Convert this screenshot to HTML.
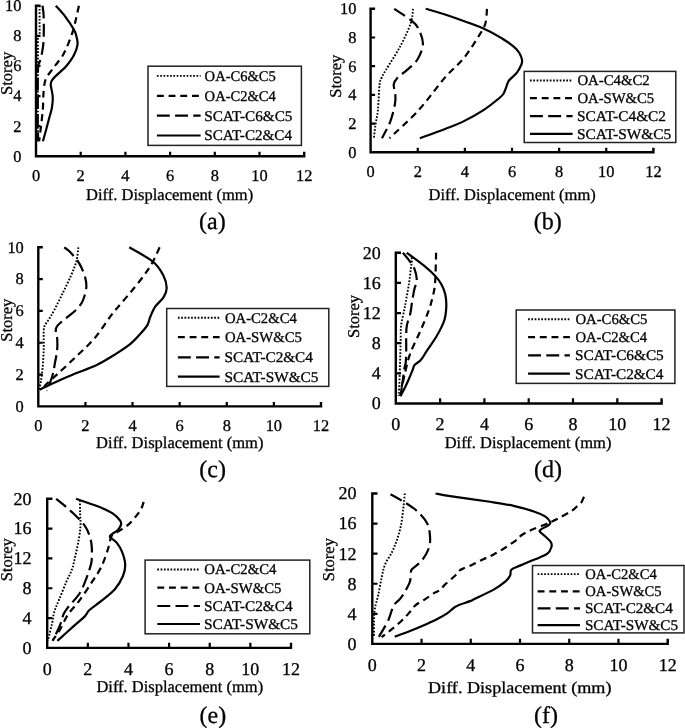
<!DOCTYPE html>
<html><head><meta charset="utf-8"><title>Diff. Displacement vs Storey</title>
<style>
html,body{margin:0;padding:0;background:#fff;}
body{width:685px;height:728px;overflow:hidden;font-family:"Liberation Serif",serif;}
svg{display:block;will-change:transform;filter:blur(0.3px);}
text{font-family:"Liberation Serif",serif;stroke:#000;stroke-width:0.3px;paint-order:stroke;text-rendering:geometricPrecision;}
</style></head><body>
<svg width="685" height="728" viewBox="0 0 685 728" font-family="Liberation Serif, serif" fill="#000">
<g id="pa">
<path d="M39.58,5.7 C39.58,8.21 39.58,15.99 39.58,20.76 C39.58,25.53 39.84,31.55 39.58,34.31 C39.32,37.07 38.27,34.56 38.01,37.33 C37.75,40.09 38.05,46.11 38.01,50.88 C37.97,55.65 37.83,60.92 37.79,65.94 C37.75,70.96 37.79,75.98 37.79,81 C37.79,86.02 37.79,91.04 37.79,96.06 C37.79,101.08 37.79,106.1 37.79,111.12 C37.79,116.14 37.79,121.16 37.79,126.18 C37.79,131.2 37.79,138.73 37.79,141.24" fill="none" stroke="#000" stroke-width="1.9" stroke-dasharray="1.7 1.6" stroke-linecap="butt" stroke-linejoin="round"/>
<path d="M78.91,5.7 C78.46,7.71 77.16,13.73 76.23,17.75 C75.3,21.76 74.63,25.53 73.32,29.8 C72.02,34.06 70.12,39.16 68.41,43.35 C66.69,47.54 65.09,51.43 63.04,54.95 C60.99,58.46 58.13,61.72 56.11,64.43 C54.1,67.14 52.73,68.7 50.97,71.21 C49.22,73.72 46.84,76.11 45.61,79.49 C44.38,82.88 44.05,86.77 43.6,91.54 C43.15,96.31 43.26,103.16 42.93,108.11 C42.59,113.05 42.22,115.69 41.59,121.21 C40.95,126.73 39.54,137.9 39.13,141.24" fill="none" stroke="#000" stroke-width="2.2" stroke-dasharray="6.9 4.8" stroke-linecap="butt" stroke-linejoin="round"/>
<path d="M42.48,5.7 C42.67,7.21 43.38,10.97 43.6,14.74 C43.82,18.5 43.86,23.52 43.82,28.29 C43.79,33.06 43.71,39.08 43.38,43.35 C43.04,47.62 42.41,50.88 41.81,53.89 C41.22,56.9 40.4,59.41 39.8,61.42 C39.2,63.43 38.57,62.68 38.23,65.94 C37.9,69.2 37.86,75.98 37.79,81 C37.71,86.02 37.79,91.04 37.79,96.06 C37.79,101.08 37.79,106.1 37.79,111.12 C37.79,116.14 37.71,121.16 37.79,126.18 C37.86,131.2 38.16,138.73 38.23,141.24" fill="none" stroke="#000" stroke-width="2.2" stroke-dasharray="12.9 5.3" stroke-linecap="butt" stroke-linejoin="round"/>
<path d="M55.8,5.7 C57.38,7.51 62.25,12.53 65.28,16.54 C68.31,20.56 72.1,26.33 74,29.8 C75.89,33.26 76.09,34.82 76.68,37.33 C77.26,39.84 77.95,41.92 77.5,44.86 C77.06,47.79 75.85,51.43 74,54.95 C72.14,58.46 68.59,63.2 66.4,65.94 C64.2,68.68 62.67,69.6 60.81,71.36 C58.95,73.12 56.71,74.95 55.22,76.48 C53.73,78.01 52.61,79.14 51.87,80.55 C51.12,81.95 50.6,82.18 50.75,84.92 C50.9,87.65 52.58,93.12 52.76,96.96 C52.95,100.8 52.5,104.29 51.87,107.96 C51.24,111.62 49.93,115.29 48.96,118.95 C47.99,122.62 47.06,126.23 46.06,129.94 C45.05,133.66 43.45,139.36 42.93,141.24" fill="none" stroke="#000" stroke-width="2.2" stroke-linecap="butt" stroke-linejoin="round"/>
<path d="M40.5,5.7 H36 V156.3 H304.2 V151.8" fill="none" stroke="#000" stroke-width="2.4" stroke-linejoin="miter"/>
<path d="M36,126.18 h4.5 M36,96.06 h4.5 M36,65.94 h4.5 M36,35.82 h4.5 M80.7,156.3 v-4.5 M125.4,156.3 v-4.5 M170.1,156.3 v-4.5 M214.8,156.3 v-4.5 M259.5,156.3 v-4.5 " stroke="#000" stroke-width="2.2"/>
<text x="21.4" y="161.65" font-size="16.4" text-anchor="end">0</text>
<text x="21.4" y="131.53" font-size="16.4" text-anchor="end">2</text>
<text x="21.4" y="101.41" font-size="16.4" text-anchor="end">4</text>
<text x="21.4" y="71.29" font-size="16.4" text-anchor="end">6</text>
<text x="21.4" y="41.17" font-size="16.4" text-anchor="end">8</text>
<text x="21.4" y="11.05" font-size="16.4" text-anchor="end">10</text>
<text x="36" y="181.3" font-size="16.4" text-anchor="middle">0</text>
<text x="80.7" y="181.3" font-size="16.4" text-anchor="middle">2</text>
<text x="125.4" y="181.3" font-size="16.4" text-anchor="middle">4</text>
<text x="170.1" y="181.3" font-size="16.4" text-anchor="middle">6</text>
<text x="214.8" y="181.3" font-size="16.4" text-anchor="middle">8</text>
<text x="259.5" y="181.3" font-size="16.4" text-anchor="middle">10</text>
<text x="304.2" y="181.3" font-size="16.4" text-anchor="middle">12</text>
<text x="86.1" y="200" font-size="16.5" textLength="167.1" lengthAdjust="spacingAndGlyphs">Diff. Displacement (mm)</text>
<text transform="translate(12.1,73.4) rotate(-90)" x="0" y="0" font-size="16.5" text-anchor="middle">Storey</text>
<text x="199.1" y="228.7" font-size="24">(a)</text>
<rect x="148" y="66.2" width="153.4" height="79.2" fill="#fff" stroke="#222" stroke-width="1.5"/>
<path d="M156.9,75.9 H200.6" stroke="#000" stroke-width="1.9" stroke-dasharray="1.7 1.6"/>
<text x="204.62" y="80.89" font-size="14.8" textLength="71.26" lengthAdjust="spacingAndGlyphs">OA-C6&amp;C5</text>
<path d="M156.9,95.8 H200.6" stroke="#000" stroke-width="2.2" stroke-dasharray="6.9 4.8"/>
<text x="204.62" y="100.79" font-size="14.8" textLength="71.29" lengthAdjust="spacingAndGlyphs">OA-C2&amp;C4</text>
<path d="M156.9,115.7 H200.6" stroke="#000" stroke-width="2.2" stroke-dasharray="12.9 5.3"/>
<text x="204.21" y="120.69" font-size="14.8" textLength="88.17" lengthAdjust="spacingAndGlyphs">SCAT-C6&amp;C5</text>
<path d="M156.9,135.5 H200.6" stroke="#000" stroke-width="2.2"/>
<text x="204.22" y="140.49" font-size="14.8" textLength="87.79" lengthAdjust="spacingAndGlyphs">SCAT-C2&amp;C4</text>
</g>
<g id="pb">
<path d="M413.02,8.8 C412.63,11.24 412.82,17.12 410.66,23.44 C408.5,29.75 404.18,38.94 400.06,46.68 C395.93,54.43 388.98,64.77 385.92,69.93 C382.85,75.1 382.74,75.26 381.68,77.68 C380.62,80.1 380.18,79.02 379.56,84.42 C378.93,89.83 378.57,103.49 377.91,110.11 C377.24,116.74 376.22,119.49 375.55,124.17 C374.88,128.86 374.17,135.89 373.9,138.24" fill="none" stroke="#000" stroke-width="1.9" stroke-dasharray="1.7 1.6" stroke-linecap="butt" stroke-linejoin="round"/>
<path d="M487.02,8.8 C486.74,11.24 486.63,19.08 485.37,23.44 C484.11,27.79 483.09,29.11 479.48,34.92 C475.86,40.73 469.42,51.23 463.69,58.31 C457.95,65.39 452.57,68.76 445.07,77.39 C437.57,86.03 427.95,99.97 418.68,110.11 C409.41,120.25 394.32,133.55 389.45,138.24" fill="none" stroke="#000" stroke-width="2.2" stroke-dasharray="6.9 4.8" stroke-linecap="butt" stroke-linejoin="round"/>
<path d="M394.17,8.8 C396.99,10.71 407.21,17.17 411.13,20.28 C415.06,23.39 415.77,23.63 417.73,27.46 C419.7,31.28 422.92,37.98 422.92,43.24 C422.92,48.5 420.36,54.58 417.73,59.03 C415.1,63.47 410.47,66.87 407.13,69.93 C403.79,72.99 399.94,74.98 397.7,77.39 C395.46,79.81 394.09,81.7 393.7,84.42 C393.3,87.15 395.15,90.43 395.35,93.75 C395.54,97.08 395.74,99.68 394.87,104.37 C394.01,109.06 392.32,116.23 390.16,121.88 C388,127.52 383.29,135.51 381.91,138.24" fill="none" stroke="#000" stroke-width="2.2" stroke-dasharray="12.9 5.3" stroke-linecap="butt" stroke-linejoin="round"/>
<path d="M425.75,8.8 C428.97,9.76 435.64,11.34 445.07,14.54 C454.5,17.74 472.8,24.03 482.31,28.03 C491.81,32.02 496.45,35.01 502.1,38.5 C507.76,42 512.9,45.3 516.24,48.98 C519.58,52.66 521.74,57.11 522.13,60.6 C522.53,64.1 519.86,67.52 518.6,69.93 C517.34,72.35 516.24,73.28 514.59,75.1 C512.94,76.91 510.08,78.88 508.7,80.84 C507.33,82.8 507.21,84.71 506.34,86.86 C505.48,89.02 504.77,91.81 503.52,93.75 C502.26,95.69 502.14,95.76 498.8,98.49 C495.46,101.21 489.53,106.21 483.48,110.11 C477.44,114.01 468.91,118.74 462.51,121.88 C456.11,125.01 452.18,126.18 445.07,128.91 C437.96,131.64 424.06,136.68 419.85,138.24" fill="none" stroke="#000" stroke-width="2.2" stroke-linecap="butt" stroke-linejoin="round"/>
<path d="M375.1,8.8 H370.6 V152.3 H653.4 V147.8" fill="none" stroke="#000" stroke-width="2.4" stroke-linejoin="miter"/>
<path d="M370.6,123.6 h4.5 M370.6,94.9 h4.5 M370.6,66.2 h4.5 M370.6,37.5 h4.5 M417.73,152.3 v-4.5 M464.87,152.3 v-4.5 M512,152.3 v-4.5 M559.13,152.3 v-4.5 M606.27,152.3 v-4.5 " stroke="#000" stroke-width="2.2"/>
<text x="356.4" y="157.65" font-size="16.4" text-anchor="end">0</text>
<text x="356.4" y="128.95" font-size="16.4" text-anchor="end">2</text>
<text x="356.4" y="100.25" font-size="16.4" text-anchor="end">4</text>
<text x="356.4" y="71.55" font-size="16.4" text-anchor="end">6</text>
<text x="356.4" y="42.85" font-size="16.4" text-anchor="end">8</text>
<text x="356.4" y="14.15" font-size="16.4" text-anchor="end">10</text>
<text x="370.6" y="176.8" font-size="16.4" text-anchor="middle">0</text>
<text x="417.73" y="176.8" font-size="16.4" text-anchor="middle">2</text>
<text x="464.87" y="176.8" font-size="16.4" text-anchor="middle">4</text>
<text x="512" y="176.8" font-size="16.4" text-anchor="middle">6</text>
<text x="559.13" y="176.8" font-size="16.4" text-anchor="middle">8</text>
<text x="606.27" y="176.8" font-size="16.4" text-anchor="middle">10</text>
<text x="653.4" y="176.8" font-size="16.4" text-anchor="middle">12</text>
<text x="428.5" y="200" font-size="16.5" textLength="167.3" lengthAdjust="spacingAndGlyphs">Diff. Displacement (mm)</text>
<text transform="translate(341.3,76.2) rotate(-90)" x="0" y="0" font-size="16.5" text-anchor="middle">Storey</text>
<text x="533.7" y="228.7" font-size="24">(b)</text>
<rect x="524.2" y="71.4" width="151.6" height="71.1" fill="#fff" stroke="#222" stroke-width="1.5"/>
<path d="M530,80.5 H572.6" stroke="#000" stroke-width="1.9" stroke-dasharray="1.7 1.6"/>
<text x="577.41" y="85.49" font-size="14.8" textLength="72.29" lengthAdjust="spacingAndGlyphs">OA-C4&amp;C2</text>
<path d="M530,98.2 H572.6" stroke="#000" stroke-width="2.2" stroke-dasharray="6.9 4.8"/>
<text x="577.41" y="103.19" font-size="14.8" textLength="76.81" lengthAdjust="spacingAndGlyphs">OA-SW&amp;C5</text>
<path d="M530,116.2 H572.6" stroke="#000" stroke-width="2.2" stroke-dasharray="12.9 5.3"/>
<text x="577" y="121.19" font-size="14.8" textLength="89.02" lengthAdjust="spacingAndGlyphs">SCAT-C4&amp;C2</text>
<path d="M530,133.9 H572.6" stroke="#000" stroke-width="2.2"/>
<text x="577" y="138.89" font-size="14.8" textLength="94.24" lengthAdjust="spacingAndGlyphs">SCAT-SW&amp;C5</text>
</g>
<g id="pc">
<path d="M78.35,247.3 C78.04,249.58 77.64,256.37 76.46,260.98 C75.29,265.6 73.52,269.73 71.28,274.98 C69.04,280.23 65.86,286.65 63.04,292.48 C60.21,298.32 56.68,305.5 54.32,309.99 C51.96,314.47 50.35,316.99 48.9,319.37 C47.45,321.76 46.47,322.5 45.6,324.3 C44.74,326.11 44.03,325.92 43.72,330.19 C43.4,334.46 43.99,342.73 43.72,349.92 C43.44,357.11 42.74,367.05 42.07,373.31 C41.4,379.57 40.15,384.6 39.71,387.47 C39.28,390.33 39.52,389.99 39.48,390.49" fill="none" stroke="#000" stroke-width="1.9" stroke-dasharray="1.7 1.6" stroke-linecap="butt" stroke-linejoin="round"/>
<path d="M159.63,247.3 C158.53,249.66 155.58,256.85 153.03,261.46 C150.48,266.07 148.08,269.81 144.31,274.98 C140.54,280.15 134.89,287.05 130.41,292.48 C125.94,297.92 120.87,303.52 117.46,307.6 C114.04,311.68 113.73,311.87 109.92,316.99 C106.11,322.1 100.1,331.84 94.6,338.31 C89.11,344.78 82.98,349.97 76.94,355.81 C70.89,361.64 63.35,368.64 58.32,373.31 C53.3,377.97 49.49,381.08 46.78,383.81 C44.07,386.54 42.85,388.71 42.07,389.69" fill="none" stroke="#000" stroke-width="2.2" stroke-dasharray="6.9 4.8" stroke-linecap="butt" stroke-linejoin="round"/>
<path d="M64.21,247.3 C65.12,248.02 67.39,249.32 69.63,251.6 C71.87,253.88 75.64,258.25 77.64,260.98 C79.64,263.71 80.39,265.25 81.65,267.98 C82.9,270.71 84.4,274.27 85.18,277.37 C85.97,280.47 86.48,283.5 86.36,286.6 C86.24,289.7 85.26,293.25 84.47,295.98 C83.69,298.72 83.06,300.65 81.65,302.99 C80.23,305.32 78.11,307.84 75.99,309.99 C73.87,312.13 71.36,313.88 68.93,315.87 C66.49,317.86 63.43,320.11 61.39,321.92 C59.35,323.72 57.62,324.94 56.68,326.69 C55.73,328.44 55.65,330.48 55.73,332.42 C55.81,334.35 56.91,335.39 57.15,338.31 C57.38,341.22 57.54,345.65 57.15,349.92 C56.75,354.19 55.58,359.62 54.79,363.92 C54.01,368.22 53.77,371.19 52.43,375.69 C51.1,380.2 47.72,388.42 46.78,390.97" fill="none" stroke="#000" stroke-width="2.2" stroke-dasharray="12.9 5.3" stroke-linecap="butt" stroke-linejoin="round"/>
<path d="M129.24,247.3 C133.12,249.66 146.9,256.85 152.56,261.46 C158.21,266.07 160.8,270.58 163.16,274.98 C165.52,279.39 166.61,284.18 166.69,287.87 C166.77,291.56 165.52,294 163.63,297.1 C161.75,300.2 157.62,303.17 155.38,306.49 C153.15,309.8 151.54,313.88 150.2,316.99 C148.87,320.09 148.95,322.37 147.38,325.1 C145.8,327.83 143.61,330.24 140.78,333.37 C137.95,336.5 134.69,340.37 130.41,343.87 C126.13,347.37 120.64,350.9 115.1,354.37 C109.56,357.85 103.71,361.56 97.2,364.72 C90.68,367.87 81.88,370.89 75.99,373.31 C70.1,375.72 66.73,377.05 61.86,379.19 C56.99,381.34 50.47,384.44 46.78,386.19 C43.09,387.94 40.89,389.11 39.71,389.69" fill="none" stroke="#000" stroke-width="2.2" stroke-linecap="butt" stroke-linejoin="round"/>
<path d="M42.8,247.3 H38.3 V406.4 H321 V401.9" fill="none" stroke="#000" stroke-width="2.4" stroke-linejoin="miter"/>
<path d="M38.3,374.58 h4.5 M38.3,342.76 h4.5 M38.3,310.94 h4.5 M38.3,279.12 h4.5 M85.42,406.4 v-4.5 M132.53,406.4 v-4.5 M179.65,406.4 v-4.5 M226.77,406.4 v-4.5 M273.88,406.4 v-4.5 " stroke="#000" stroke-width="2.2"/>
<text x="23.8" y="411.75" font-size="16.4" text-anchor="end">0</text>
<text x="23.8" y="379.93" font-size="16.4" text-anchor="end">2</text>
<text x="23.8" y="348.11" font-size="16.4" text-anchor="end">4</text>
<text x="23.8" y="316.29" font-size="16.4" text-anchor="end">6</text>
<text x="23.8" y="284.47" font-size="16.4" text-anchor="end">8</text>
<text x="23.8" y="252.65" font-size="16.4" text-anchor="end">10</text>
<text x="38.3" y="431.1" font-size="16.4" text-anchor="middle">0</text>
<text x="85.42" y="431.1" font-size="16.4" text-anchor="middle">2</text>
<text x="132.53" y="431.1" font-size="16.4" text-anchor="middle">4</text>
<text x="179.65" y="431.1" font-size="16.4" text-anchor="middle">6</text>
<text x="226.77" y="431.1" font-size="16.4" text-anchor="middle">8</text>
<text x="273.88" y="431.1" font-size="16.4" text-anchor="middle">10</text>
<text x="321" y="431.1" font-size="16.4" text-anchor="middle">12</text>
<text x="96.1" y="448" font-size="16.5" textLength="167.3" lengthAdjust="spacingAndGlyphs">Diff. Displacement (mm)</text>
<text transform="translate(11.5,320.2) rotate(-90)" x="0" y="0" font-size="16.5" text-anchor="middle">Storey</text>
<text x="199.3" y="477.4" font-size="24">(c)</text>
<rect x="166.7" y="308.5" width="162.1" height="77.9" fill="#fff" stroke="#222" stroke-width="1.5"/>
<path d="M177.9,317.8 H219.6" stroke="#000" stroke-width="1.9" stroke-dasharray="1.7 1.6"/>
<text x="224.91" y="322.79" font-size="14.8" textLength="71.9" lengthAdjust="spacingAndGlyphs">OA-C2&amp;C4</text>
<path d="M177.9,337.2 H219.6" stroke="#000" stroke-width="2.2" stroke-dasharray="6.9 4.8"/>
<text x="224.91" y="342.19" font-size="14.8" textLength="77.01" lengthAdjust="spacingAndGlyphs">OA-SW&amp;C5</text>
<path d="M177.9,357.3 H219.6" stroke="#000" stroke-width="2.2" stroke-dasharray="12.9 5.3"/>
<text x="224.51" y="362.29" font-size="14.8" textLength="88.4" lengthAdjust="spacingAndGlyphs">SCAT-C2&amp;C4</text>
<path d="M177.9,376.7 H219.6" stroke="#000" stroke-width="2.2"/>
<text x="224.5" y="381.69" font-size="14.8" textLength="93.93" lengthAdjust="spacingAndGlyphs">SCAT-SW&amp;C5</text>
</g>
<g id="pd">
<path d="M406.88,252.8 C407.69,253.68 411.08,255.56 411.75,258.07 C412.41,260.59 411.31,263.73 410.86,267.87 C410.42,272.01 409.94,277.29 409.09,282.94 C408.24,288.59 406.58,297.26 405.77,301.78 C404.96,306.3 404.99,306.14 404.22,310.07 C403.44,314 401.71,320.25 401.12,325.36 C400.53,330.47 400.82,335.62 400.67,340.73 C400.53,345.84 400.38,350.93 400.23,356.03 C400.08,361.13 399.97,365.93 399.79,371.33 C399.6,376.73 399.34,384.32 399.12,388.43 C398.9,392.54 398.57,394.71 398.46,395.96" fill="none" stroke="#000" stroke-width="1.9" stroke-dasharray="1.7 1.6" stroke-linecap="butt" stroke-linejoin="round"/>
<path d="M436.11,252.8 C436,256.63 435.71,269.92 435.45,275.78 C435.19,281.65 435.08,284.26 434.56,287.99 C434.05,291.72 433.31,294.42 432.35,298.16 C431.39,301.9 430.76,305.07 428.8,310.44 C426.85,315.82 423.67,323.33 420.61,330.41 C417.54,337.49 412.89,346.41 410.42,352.94 C407.95,359.47 407.1,364.31 405.77,369.59 C404.44,374.88 403.37,380.27 402.44,384.66 C401.52,389.06 400.6,394.08 400.23,395.96" fill="none" stroke="#000" stroke-width="2.2" stroke-dasharray="6.9 4.8" stroke-linecap="butt" stroke-linejoin="round"/>
<path d="M402.89,252.8 C403.92,254.06 407.13,257.57 409.09,260.34 C411.05,263.1 413.34,265.99 414.63,269.38 C415.92,272.77 416.88,277.41 416.84,280.68 C416.81,283.94 415.22,285.33 414.41,288.97 C413.59,292.61 412.63,298.51 411.97,302.53 C411.31,306.55 411.27,309.27 410.42,313.08 C409.57,316.89 407.58,321.62 406.88,325.36 C406.17,329.1 406.32,331.28 406.21,335.53 C406.1,339.79 406.28,346.47 406.21,350.91 C406.14,355.34 406.1,359.07 405.77,362.13 C405.44,365.2 404.7,366.39 404.22,369.29 C403.74,372.19 403.55,375.09 402.89,379.54 C402.22,383.98 400.67,393.23 400.23,395.96" fill="none" stroke="#000" stroke-width="2.2" stroke-dasharray="12.9 5.3" stroke-linecap="butt" stroke-linejoin="round"/>
<path d="M406.88,252.8 C409.68,254.91 419.02,261.63 423.71,265.46 C428.4,269.29 432.09,272.7 435.01,275.78 C437.92,278.86 439.51,280.87 441.21,283.92 C442.91,286.97 444.35,290.35 445.19,294.09 C446.04,297.83 446.45,302.02 446.3,306.37 C446.15,310.73 445.86,315.38 444.31,320.24 C442.76,325.1 439.92,330.42 437,335.53 C434.08,340.65 429.5,346.82 426.81,350.91 C424.12,354.99 422.86,357.69 420.83,360.02 C418.8,362.36 415.96,363.38 414.63,364.92 C413.3,366.47 413.78,367.03 412.86,369.29 C411.93,371.55 410.42,375.39 409.09,378.48 C407.76,381.57 406.32,384.88 404.88,387.83 C403.44,390.78 401.19,394.8 400.45,396.19" fill="none" stroke="#000" stroke-width="2.2" stroke-linecap="butt" stroke-linejoin="round"/>
<path d="M401,252.8 H395.8 V403.5 H661.6 V398.3" fill="none" stroke="#000" stroke-width="2.4" stroke-linejoin="miter"/>
<path d="M395.8,373.36 h5.2 M395.8,343.22 h5.2 M395.8,313.08 h5.2 M395.8,282.94 h5.2 M440.1,403.5 v-5.2 M484.4,403.5 v-5.2 M528.7,403.5 v-5.2 M573,403.5 v-5.2 M617.3,403.5 v-5.2 " stroke="#000" stroke-width="2.2"/>
<text x="380.7" y="409.37" font-size="18" text-anchor="end">0</text>
<text x="380.7" y="379.23" font-size="18" text-anchor="end">4</text>
<text x="380.7" y="349.09" font-size="18" text-anchor="end">8</text>
<text x="380.7" y="318.95" font-size="18" text-anchor="end">12</text>
<text x="380.7" y="288.81" font-size="18" text-anchor="end">16</text>
<text x="380.7" y="258.67" font-size="18" text-anchor="end">20</text>
<text x="395.8" y="430.4" font-size="18" text-anchor="middle">0</text>
<text x="440.1" y="430.4" font-size="18" text-anchor="middle">2</text>
<text x="484.4" y="430.4" font-size="18" text-anchor="middle">4</text>
<text x="528.7" y="430.4" font-size="18" text-anchor="middle">6</text>
<text x="573" y="430.4" font-size="18" text-anchor="middle">8</text>
<text x="617.3" y="430.4" font-size="18" text-anchor="middle">10</text>
<text x="661.6" y="430.4" font-size="18" text-anchor="middle">12</text>
<text x="444.7" y="447.8" font-size="16.5" textLength="166.7" lengthAdjust="spacingAndGlyphs">Diff. Displacement (mm)</text>
<text transform="translate(358.6,316.5) rotate(-90)" x="0" y="0" font-size="16.5" text-anchor="middle">Storey</text>
<text x="534" y="477.1" font-size="24">(d)</text>
<rect x="516.2" y="310" width="158.7" height="73.4" fill="#fff" stroke="#222" stroke-width="1.5"/>
<path d="M528.1,319.2 H569.9" stroke="#000" stroke-width="1.9" stroke-dasharray="1.7 1.6"/>
<text x="575.41" y="324.19" font-size="14.8" textLength="72.07" lengthAdjust="spacingAndGlyphs">OA-C6&amp;C5</text>
<path d="M528.1,337.2 H569.9" stroke="#000" stroke-width="2.2" stroke-dasharray="6.9 4.8"/>
<text x="575.41" y="342.19" font-size="14.8" textLength="71.7" lengthAdjust="spacingAndGlyphs">OA-C2&amp;C4</text>
<path d="M528.1,355.4 H569.9" stroke="#000" stroke-width="2.2" stroke-dasharray="12.9 5.3"/>
<text x="575" y="360.39" font-size="14.8" textLength="88.78" lengthAdjust="spacingAndGlyphs">SCAT-C6&amp;C5</text>
<path d="M528.1,373.6 H569.9" stroke="#000" stroke-width="2.2"/>
<text x="575.01" y="378.59" font-size="14.8" textLength="88.4" lengthAdjust="spacingAndGlyphs">SCAT-C2&amp;C4</text>
</g>
<g id="pe">
<path d="M79.91,500.29 C79.94,502.53 80.01,509.61 80.11,513.71 C80.21,517.81 80.72,520.67 80.52,524.89 C80.32,529.12 79.74,533.96 78.89,539.06 C78.05,544.15 76.59,550.41 75.44,555.46 C74.29,560.5 73.54,564.83 71.99,569.32 C70.43,573.82 68.26,577.34 66.09,582.45 C63.93,587.55 60.95,595.09 58.98,599.96 C57.02,604.83 55.46,607.77 54.31,611.67 C53.16,615.57 53.06,618.89 52.08,623.37 C51.09,627.86 49.06,635.74 48.42,638.58 C47.78,641.43 48.25,640.13 48.22,640.44" fill="none" stroke="#000" stroke-width="1.9" stroke-dasharray="1.7 1.6" stroke-linecap="butt" stroke-linejoin="round"/>
<path d="M143.7,501.78 C143.3,502.94 142.42,506.47 141.27,508.72 C140.11,510.96 139,512.58 136.8,515.28 C134.6,517.97 131.28,522.12 128.06,524.89 C124.84,527.66 120.27,530 117.5,531.9 C114.72,533.8 112.86,533.86 111.4,536.3 C109.94,538.73 109.98,542.49 108.76,546.51 C107.54,550.54 105.71,556.35 104.09,560.45 C102.46,564.55 101.07,567.45 99.01,571.11 C96.94,574.78 94.88,577.64 91.69,582.45 C88.51,587.25 83.8,594.71 79.91,599.96 C76.02,605.22 71.61,609.11 68.33,613.98 C65.04,618.85 62.81,624.8 60.2,629.19 C57.6,633.57 53.94,638.44 52.69,640.3" fill="none" stroke="#000" stroke-width="2.2" stroke-dasharray="6.9 4.8" stroke-linecap="butt" stroke-linejoin="round"/>
<path d="M56.14,498.8 C57.19,499.64 59.8,501.65 62.44,503.87 C65.08,506.09 68.36,508.64 71.99,512.14 C75.61,515.65 81.26,521.02 84.18,524.89 C87.09,528.77 88.21,531.88 89.46,535.4 C90.71,538.93 91.32,541.96 91.69,546.06 C92.07,550.16 91.9,556.66 91.69,560.01 C91.49,563.35 91.25,563.35 90.47,566.12 C89.7,568.89 88.78,572.16 87.02,576.63 C85.26,581.1 83.03,587.9 79.91,592.96 C76.79,598.01 71.04,603.47 68.33,606.97 C65.62,610.48 65.01,611.05 63.66,613.98 C62.3,616.91 62.03,620.08 60.2,624.57 C58.37,629.05 53.94,638.17 52.69,640.89" fill="none" stroke="#000" stroke-width="2.2" stroke-dasharray="12.9 5.3" stroke-linecap="butt" stroke-linejoin="round"/>
<path d="M76.05,498.8 C79.64,500.05 91.49,503.91 97.59,506.33 C103.68,508.75 108.86,510.95 112.62,513.34 C116.38,515.72 118.75,518.72 120.14,520.64 C121.53,522.57 121.39,523.3 120.95,524.89 C120.51,526.48 119.09,528.57 117.5,530.19 C115.9,531.8 112.62,533.42 111.4,534.58 C110.18,535.75 109.34,535.9 110.18,537.19 C111.03,538.49 114.48,539.85 116.48,542.34 C118.48,544.82 120.71,548.4 122.17,552.1 C123.62,555.81 125.08,560.56 125.22,564.55 C125.35,568.54 124.71,571.92 122.98,576.03 C121.25,580.15 118.51,585.04 114.85,589.23 C111.2,593.42 105.27,597.7 101.04,601.16 C96.81,604.61 92.17,607.42 89.46,609.95 C86.75,612.49 87.33,613.74 84.79,616.37 C82.25,618.99 78.79,621.6 74.22,625.68 C69.65,629.77 60.17,638.36 57.36,640.89" fill="none" stroke="#000" stroke-width="2.2" stroke-linecap="butt" stroke-linejoin="round"/>
<path d="M52.4,498.8 H47.2 V647.9 H291 V642.7" fill="none" stroke="#000" stroke-width="2.4" stroke-linejoin="miter"/>
<path d="M47.2,618.08 h5.2 M47.2,588.26 h5.2 M47.2,558.44 h5.2 M47.2,528.62 h5.2 M87.83,647.9 v-5.2 M128.47,647.9 v-5.2 M169.1,647.9 v-5.2 M209.73,647.9 v-5.2 M250.37,647.9 v-5.2 " stroke="#000" stroke-width="2.2"/>
<text x="31.6" y="653.77" font-size="18" text-anchor="end">0</text>
<text x="31.6" y="623.95" font-size="18" text-anchor="end">4</text>
<text x="31.6" y="594.13" font-size="18" text-anchor="end">8</text>
<text x="31.6" y="564.31" font-size="18" text-anchor="end">12</text>
<text x="31.6" y="534.49" font-size="18" text-anchor="end">16</text>
<text x="31.6" y="504.67" font-size="18" text-anchor="end">20</text>
<text x="47.2" y="675" font-size="18" text-anchor="middle">0</text>
<text x="87.83" y="675" font-size="18" text-anchor="middle">2</text>
<text x="128.47" y="675" font-size="18" text-anchor="middle">4</text>
<text x="169.1" y="675" font-size="18" text-anchor="middle">6</text>
<text x="209.73" y="675" font-size="18" text-anchor="middle">8</text>
<text x="250.37" y="675" font-size="18" text-anchor="middle">10</text>
<text x="291" y="675" font-size="18" text-anchor="middle">12</text>
<text x="96.4" y="691.8" font-size="16.5" textLength="166.8" lengthAdjust="spacingAndGlyphs">Diff. Displacement (mm)</text>
<text transform="translate(11.5,559.8) rotate(-90)" x="0" y="0" font-size="16.5" text-anchor="middle">Storey</text>
<text x="199.5" y="722.9" font-size="24">(e)</text>
<rect x="145.1" y="560.1" width="164.7" height="73.7" fill="#fff" stroke="#222" stroke-width="1.5"/>
<path d="M157.3,569.5 H199.9" stroke="#000" stroke-width="1.9" stroke-dasharray="1.7 1.6"/>
<text x="204.31" y="574.49" font-size="14.8" textLength="72.1" lengthAdjust="spacingAndGlyphs">OA-C2&amp;C4</text>
<path d="M157.3,587.7 H199.9" stroke="#000" stroke-width="2.2" stroke-dasharray="6.9 4.8"/>
<text x="204.31" y="592.69" font-size="14.8" textLength="77.12" lengthAdjust="spacingAndGlyphs">OA-SW&amp;C5</text>
<path d="M157.3,606 H199.9" stroke="#000" stroke-width="2.2" stroke-dasharray="12.9 5.3"/>
<text x="203.91" y="610.99" font-size="14.8" textLength="88.7" lengthAdjust="spacingAndGlyphs">SCAT-C2&amp;C4</text>
<path d="M157.3,624 H199.9" stroke="#000" stroke-width="2.2"/>
<text x="203.9" y="628.99" font-size="14.8" textLength="94.14" lengthAdjust="spacingAndGlyphs">SCAT-SW&amp;C5</text>
</g>
<g id="pf">
<path d="M404.79,493.5 C404.55,495.98 403.97,502.99 403.32,508.39 C402.66,513.79 401.92,520.66 400.86,525.91 C399.79,531.16 398.35,535.61 396.92,539.9 C395.48,544.18 394.21,547.54 392.24,551.63 C390.27,555.72 386.86,560.1 385.1,564.41 C383.34,568.73 382.8,572.4 381.65,577.5 C380.51,582.6 379.36,589.77 378.21,595.02 C377.06,600.27 375.46,604.62 374.76,609.01 C374.06,613.39 374.15,616.78 374.02,621.34 C373.9,625.9 374.02,633.87 374.02,636.38" fill="none" stroke="#000" stroke-width="1.9" stroke-dasharray="1.7 1.6" stroke-linecap="butt" stroke-linejoin="round"/>
<path d="M584,496.81 C583.55,497.76 582.49,500.91 581.3,502.52 C580.11,504.14 578.34,505.19 576.86,506.51 C575.39,507.83 574.03,509.25 572.43,510.42 C570.83,511.59 569.73,512.12 567.26,513.5 C564.8,514.88 560.13,517.39 557.66,518.69 C555.2,520 554.59,520.36 552.49,521.32 C550.4,522.29 548.6,523.07 545.11,524.48 C541.62,525.9 535.47,528.07 531.57,529.82 C527.67,531.58 524.1,533.43 521.72,535.01 C519.34,536.59 520,537.22 517.29,539.3 C514.58,541.38 509.41,544.96 505.48,547.49 C501.54,550.03 497.35,552.53 493.66,554.49 C489.97,556.44 486.81,557.56 483.32,559.22 C479.83,560.89 476.06,562.95 472.74,564.49 C469.41,566.03 465.52,567.51 463.38,568.47 C461.25,569.44 461.29,569.11 459.94,570.28 C458.58,571.44 457.8,573.04 455.26,575.47 C452.71,577.9 447.18,582.45 444.67,584.87 C442.17,587.29 441.97,588.64 440.24,589.98 C438.52,591.32 436.88,591.36 434.33,592.91 C431.79,594.47 428.1,597.26 424.98,599.31 C421.86,601.35 418.33,602.83 415.63,605.17 C412.92,607.52 411.03,610.82 408.73,613.37 C406.44,615.91 404.75,617.72 401.84,620.44 C398.93,623.16 394.62,626.9 391.25,629.69 C387.89,632.47 383.25,635.89 381.65,637.13" fill="none" stroke="#000" stroke-width="2.2" stroke-dasharray="6.9 4.8" stroke-linecap="butt" stroke-linejoin="round"/>
<path d="M390.52,494.25 C392.44,495.34 397.74,498.05 402.09,500.79 C406.44,503.54 412.43,506.94 416.61,510.72 C420.79,514.51 424.94,518.84 427.2,523.5 C429.45,528.17 430.03,534.21 430.15,538.7 C430.27,543.18 429.37,546.73 427.93,550.43 C426.5,554.12 424.2,557.73 421.53,560.88 C418.87,564.03 413.7,567.12 411.93,569.3 C410.17,571.48 411.32,571.81 410.95,573.96 C410.58,576.12 410.7,579.32 409.72,582.24 C408.73,585.16 406.6,588.78 405.04,591.49 C403.48,594.19 402.21,596.22 400.36,598.48 C398.52,600.74 395.52,602.67 393.96,605.02 C392.4,607.38 392.08,609.81 391.01,612.62 C389.94,615.42 389.61,617.78 387.56,621.87 C385.51,625.95 380.18,634.59 378.7,637.13" fill="none" stroke="#000" stroke-width="2.2" stroke-dasharray="12.9 5.3" stroke-linecap="butt" stroke-linejoin="round"/>
<path d="M435.56,493.5 C437.99,493.94 441.02,494.75 450.09,496.13 C459.16,497.51 479.38,500.16 489.97,501.77 C500.55,503.39 506.17,504.18 513.6,505.83 C521.03,507.49 529.27,509.93 534.52,511.7 C539.78,513.47 542.48,514.68 545.11,516.44 C547.73,518.19 549.7,520.79 550.28,522.23 C550.85,523.67 550.03,523.92 548.56,525.08 C547.08,526.25 542.89,528.15 541.42,529.22 C539.94,530.29 539.08,530.31 539.69,531.48 C540.31,532.64 543.26,534.46 545.11,536.21 C546.96,537.97 549.7,540.26 550.77,542 C551.84,543.75 552.08,544.71 551.51,546.67 C550.93,548.62 550.16,551.58 547.32,553.74 C544.49,555.89 539.08,557.62 534.52,559.6 C529.97,561.58 523.86,563.94 520,565.62 C516.14,567.3 513.03,568.04 511.38,569.68 C509.74,571.32 511.14,573.51 510.15,575.47 C509.17,577.42 508.23,579.05 505.48,581.41 C502.73,583.77 498.75,586.71 493.66,589.61 C488.57,592.5 478.89,596.86 474.95,598.78 C471.01,600.7 472.49,600.15 470.03,601.11 C467.57,602.08 462.81,603.51 460.18,604.57 C457.56,605.64 456.45,606.04 454.27,607.5 C452.1,608.97 450.05,611.41 447.13,613.37 C444.22,615.32 441.06,617.09 436.8,619.23 C432.53,621.38 426.42,624.1 421.53,626.23 C416.65,628.36 411.97,630.28 407.5,632.02 C403.03,633.76 396.83,635.9 394.7,636.68" fill="none" stroke="#000" stroke-width="2.2" stroke-linecap="butt" stroke-linejoin="round"/>
<path d="M377.5,493.5 H372.3 V643.9 H667.7 V638.7" fill="none" stroke="#000" stroke-width="2.4" stroke-linejoin="miter"/>
<path d="M372.3,613.82 h5.2 M372.3,583.74 h5.2 M372.3,553.66 h5.2 M372.3,523.58 h5.2 M421.53,643.9 v-5.2 M470.77,643.9 v-5.2 M520,643.9 v-5.2 M569.23,643.9 v-5.2 M618.47,643.9 v-5.2 " stroke="#000" stroke-width="2.2"/>
<text x="356.5" y="649.77" font-size="18" text-anchor="end">0</text>
<text x="356.5" y="619.69" font-size="18" text-anchor="end">4</text>
<text x="356.5" y="589.61" font-size="18" text-anchor="end">8</text>
<text x="356.5" y="559.53" font-size="18" text-anchor="end">12</text>
<text x="356.5" y="529.45" font-size="18" text-anchor="end">16</text>
<text x="356.5" y="499.37" font-size="18" text-anchor="end">20</text>
<text x="372.3" y="671.1" font-size="18" text-anchor="middle">0</text>
<text x="421.53" y="671.1" font-size="18" text-anchor="middle">2</text>
<text x="470.77" y="671.1" font-size="18" text-anchor="middle">4</text>
<text x="520" y="671.1" font-size="18" text-anchor="middle">6</text>
<text x="569.23" y="671.1" font-size="18" text-anchor="middle">8</text>
<text x="618.47" y="671.1" font-size="18" text-anchor="middle">10</text>
<text x="667.7" y="671.1" font-size="18" text-anchor="middle">12</text>
<text x="428" y="692.8" font-size="16.5" textLength="183.5" lengthAdjust="spacingAndGlyphs">Diff. Displacement (mm)</text>
<text transform="translate(334.2,559.6) rotate(-90)" x="0" y="0" font-size="16.5" text-anchor="middle">Storey</text>
<text x="534" y="722.9" font-size="24">(f)</text>
<rect x="532.5" y="565.5" width="151.5" height="67.4" fill="#fff" stroke="#222" stroke-width="1.5"/>
<path d="M537.6,574.1 H580" stroke="#000" stroke-width="1.9" stroke-dasharray="1.7 1.6"/>
<text x="585.32" y="579.09" font-size="14.8" textLength="71.39" lengthAdjust="spacingAndGlyphs">OA-C2&amp;C4</text>
<path d="M537.6,591.3 H580" stroke="#000" stroke-width="2.2" stroke-dasharray="6.9 4.8"/>
<text x="585.31" y="596.29" font-size="14.8" textLength="76.4" lengthAdjust="spacingAndGlyphs">OA-SW&amp;C5</text>
<path d="M537.6,608.4 H580" stroke="#000" stroke-width="2.2" stroke-dasharray="12.9 5.3"/>
<text x="584.91" y="613.39" font-size="14.8" textLength="87.89" lengthAdjust="spacingAndGlyphs">SCAT-C2&amp;C4</text>
<path d="M537.6,625.2 H580" stroke="#000" stroke-width="2.2"/>
<text x="584.91" y="630.19" font-size="14.8" textLength="93.22" lengthAdjust="spacingAndGlyphs">SCAT-SW&amp;C5</text>
</g>
</svg>
</body></html>
